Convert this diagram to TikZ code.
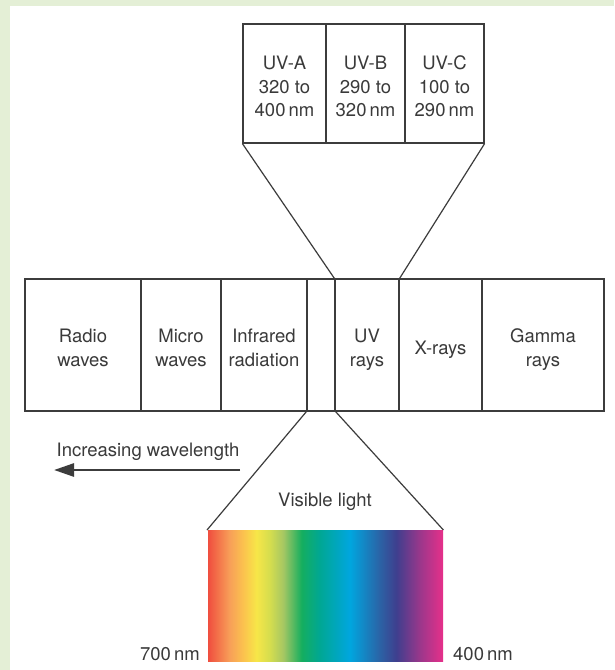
\documentclass[tikz,border=0pt]{standalone}
\usepackage{fontspec}
\setmainfont{TeX Gyre Heros}
\usetikzlibrary{arrows.meta}
\definecolor{framegreen}{HTML}{E4EFD6}
\definecolor{inkline}{HTML}{3C3C3C}
\definecolor{inktext}{HTML}{3A3A3A}
\definecolor{sA}{HTML}{EF4B3E}
\definecolor{sB}{HTML}{F8A058}
\definecolor{sC}{HTML}{FBC24E}
\definecolor{sD}{HTML}{F7E648}
\definecolor{sE}{HTML}{D4DD4E}
\definecolor{sF}{HTML}{A6C763}
\definecolor{sG}{HTML}{15AE5F}
\definecolor{sH}{HTML}{00A794}
\definecolor{sI}{HTML}{00A6DF}
\definecolor{sJ}{HTML}{2B62A5}
\definecolor{sK}{HTML}{3F3F8E}
\definecolor{sL}{HTML}{9A378B}
\definecolor{sM}{HTML}{E7308A}
\pgfdeclarehorizontalshading{spectrum}{131pt}{color(0pt)=(sA); color(22.7pt)=(sB); color(36.1pt)=(sC); color(49.3pt)=(sD); color(62.8pt)=(sE); color(76pt)=(sF); color(94.4pt)=(sG); color(112.6pt)=(sH); color(142.8pt)=(sI); color(172.8pt)=(sJ); color(189.3pt)=(sK); color(212.6pt)=(sL); color(236pt)=(sM)}
\newcommand{\celltxt}[1]{\raisebox{-5pt}[\height][\depth]{\begin{tabular}{@{}c@{}}#1\end{tabular}}}
\tikzset{
  cell/.style={draw=inkline, line width=1.2pt, rectangle, inner sep=0pt, text=inktext, font=\fontsize{18.5}{23.5}\selectfont},
  txt/.style={inner sep=0pt, text=inktext, font=\fontsize{18.5}{23.5}\selectfont},
  link/.style={draw=inkline, line width=1.2pt},
  bigarrow/.style={draw=inkline, line width=2.7pt, -{Triangle[length=20pt,width=13pt]}},
}
\begin{document}
\begin{tikzpicture}[x=1pt,y=-1pt]
\useasboundingbox (0,0) rectangle (614,670);
\fill[framegreen] (0,0) rectangle (614,670);
\fill[white] (10,6) rectangle (614,670);
% UV sub-bands
\node[cell, minimum width=83pt, minimum height=119pt] (uva) at (284.5,83.5) {\celltxt{UV-A\\320 to\\400\,nm}};
\node[cell, minimum width=79pt, minimum height=119pt] (uvb) at (365.5,83.5) {\celltxt{UV-B\\290 to\\320\,nm}};
\node[cell, minimum width=79pt, minimum height=119pt] (uvc) at (444.5,83.5) {\celltxt{UV-C\\100 to\\290\,nm}};
% main band
\node[cell, minimum width=116pt, minimum height=132pt] (radio) at (83,345) {\celltxt{Radio\\waves}};
\node[cell, minimum width=80pt, minimum height=132pt] (micro) at (181,345) {\celltxt{Micro\\waves}};
\node[cell, minimum width=86pt, minimum height=132pt] (infra) at (264,345) {\celltxt{Infrared\\radiation}};
\node[cell, minimum width=28pt, minimum height=132pt] (vis) at (321,345) {};
\node[cell, minimum width=64pt, minimum height=132pt] (uv) at (367,345) {\celltxt{UV\\rays}};
\node[cell, minimum width=83pt, minimum height=132pt] (xray) at (440.5,345) {\celltxt{X-rays}};
\node[cell, minimum width=122pt, minimum height=132pt] (gamma) at (543,345) {\celltxt{Gamma\\rays}};
% spectrum
\node[inner sep=0pt, anchor=north west] (spec) at (207,530) {\pgfuseshading{spectrum}};
% connectors
\draw[link] (uva.south west) -- (uv.north west);
\draw[link] (uvc.south east) -- (uv.north east);
\draw[link] (vis.south west) -- (spec.north west);
\draw[link] (vis.south east) -- (spec.north east);
% arrow
\coordinate (arrS) at (240,470);
\coordinate (arrE) at (54,470);
\draw[bigarrow] (arrS) -- (arrE);
% labels
\node[txt, anchor=base] (inc) at (148,456) {Increasing wavelength};
\node[txt, anchor=base] (vislab) at (325,506) {Visible light};
\node[txt, anchor=base east] (l700) at (200,660) {700\,nm};
\node[txt, anchor=base west] (l400) at (453,660) {400\,nm};
\end{tikzpicture}
\end{document}
